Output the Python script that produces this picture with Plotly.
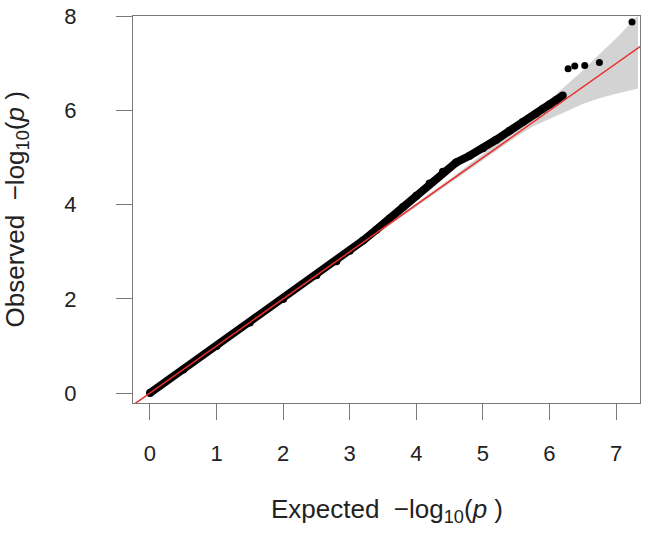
import plotly.graph_objects as go

# ---- data ----
expected = [0, 0.5, 1, 1.5, 2, 2.5, 2.8, 3.0, 3.2, 3.4, 3.6, 3.8, 4.0, 4.2, 4.4,
            4.6, 4.8, 5.0, 5.2, 5.4, 5.6, 5.8, 5.9, 6.0, 6.1, 6.2]
observed = [0, 0.5, 1, 1.5, 2, 2.5, 2.8, 3.02, 3.24, 3.47, 3.71, 3.95, 4.19, 4.45, 4.7,
            4.9, 5.04, 5.2, 5.38, 5.57, 5.76, 5.94, 6.04, 6.13, 6.22, 6.32]

top_expected = [6.28, 6.38, 6.53, 6.75, 7.24]
top_observed = [6.89, 6.95, 6.96, 7.02, 7.88]

band_x = [0, 1, 2, 3, 4, 4.5, 5, 5.5, 5.75, 6.0, 6.25, 6.5, 6.75, 7.0, 7.33]
band_upper = [0, 1.01, 2.015, 3.02, 4.03, 4.54, 5.08, 5.63, 5.92, 6.22, 6.53, 6.85, 7.2, 7.53, 8.02]
band_lower = [0, 0.99, 1.985, 2.98, 3.97, 4.46, 4.96, 5.44, 5.66, 5.82, 5.99, 6.14, 6.26, 6.36, 6.47]

x_ticks = [0, 1, 2, 3, 4, 5, 6, 7]
y_ticks = [0, 2, 4, 6, 8]
x_range = [-0.255, 7.36]
y_range = [-0.212, 8.01]

fig = go.Figure()

# confidence band
fig.add_trace(go.Scatter(x=band_x, y=band_lower, mode="lines",
                         line=dict(width=0, color="rgba(0,0,0,0)"),
                         showlegend=False, hoverinfo="skip"))
fig.add_trace(go.Scatter(x=band_x, y=band_upper, mode="lines", fill="tonexty",
                         fillcolor="#D3D3D3", line=dict(width=0, color="rgba(0,0,0,0)"),
                         showlegend=False, hoverinfo="skip"))

# dense QQ points (drawn as thick path)
fig.add_trace(go.Scatter(x=expected, y=observed, mode="lines+markers",
                         line=dict(color="black", width=8),
                         marker=dict(color="black", size=8),
                         showlegend=False))
fig.add_trace(go.Scatter(x=top_expected, y=top_observed, mode="markers",
                         marker=dict(color="black", size=7),
                         showlegend=False))

# y = x reference line
fig.add_trace(go.Scatter(x=[x_range[0] - 1, x_range[1] + 1],
                         y=[x_range[0] - 1, x_range[1] + 1],
                         mode="lines", line=dict(color="#E8312F", width=1.5),
                         showlegend=False))

axis_common = dict(showgrid=False, zeroline=False, showline=True, mirror=True,
                   automargin=False,
                   linecolor="#7a7a7a", linewidth=1.3, ticks="outside", ticklen=16,
                   tickwidth=1.3, tickcolor="#7a7a7a",
                   tickfont=dict(family="Liberation Sans, Arial", size=22, color="#222222"))

fig.update_xaxes(range=x_range, tickvals=x_ticks, ticklabelstandoff=14, **axis_common)
fig.update_yaxes(range=y_range, tickvals=y_ticks, ticklabelstandoff=35, **axis_common)

title_font = dict(family="Liberation Sans, Arial", size=26, color="#222222")
fig.add_annotation(xref="paper", yref="paper", x=0.5, y=0, yanchor="middle",
                   yshift=-107, showarrow=False, font=title_font,
                   text="Expected\u00a0\u00a0\u2212log<sub>10</sub>(<i>p</i>\u00a0)")
fig.add_annotation(xref="paper", yref="paper", x=0, y=0.5, xanchor="center",
                   xshift=-117, textangle=-90, showarrow=False, font=title_font,
                   text="Observed\u00a0\u00a0\u2212log<sub>10</sub>(<i>p</i>\u00a0)")

fig.update_layout(width=651, height=533,
                  margin=dict(l=133, r=11, t=16, b=130),
                  plot_bgcolor="white", paper_bgcolor="white")

fig.write_html("out.html", config={"displayModeBar": False},
               post_script="document.body.style.margin='0';")
